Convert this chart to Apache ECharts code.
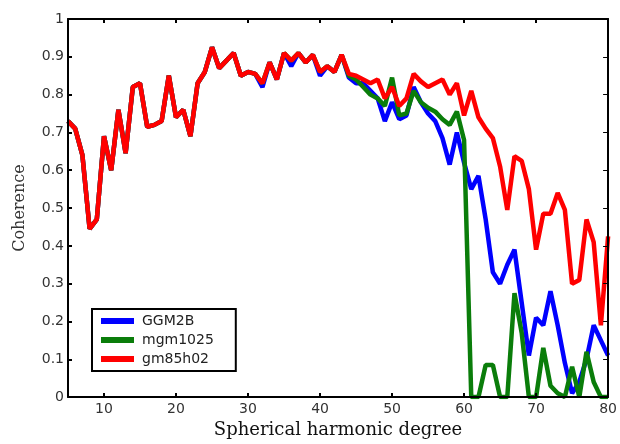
<!DOCTYPE html>
<html>
<head>
<meta charset="utf-8">
<script src="https://cdn.jsdelivr.net/npm/echarts@6/dist/echarts.min.js"></script>
<style>
  html, body { margin: 0; padding: 0; background: #fff; }
  #chart { width: 620px; height: 444px; }
</style>
</head>
<body>
<div id="chart"></div>
<script>
// spherical harmonic degree
var degrees = [5, 6, 7, 8, 9, 10, 11, 12, 13, 14, 15, 16, 17, 18, 19, 20,
    21, 22, 23, 24, 25, 26, 27, 28, 29, 30, 31, 32, 33, 34, 35, 36, 37, 38, 39, 40,
    41, 42, 43, 44, 45, 46, 47, 48, 49, 50, 51, 52, 53, 54, 55, 56, 57, 58, 59, 60,
    61, 62, 63, 64, 65, 66, 67, 68, 69, 70, 71, 72, 73, 74, 75, 76, 77, 78, 79, 80]

var ggm2b = [0.73, 0.71, 0.64, 0.445, 0.47, 0.69, 0.60, 0.76, 0.645, 0.82, 0.83, 0.715, 0.72, 0.73, 0.85, 0.74,
    0.76, 0.69, 0.83, 0.86, 0.925, 0.87, 0.89, 0.91, 0.85, 0.86, 0.855, 0.82, 0.885, 0.84, 0.91, 0.875, 0.91, 0.885, 0.905, 0.85,
    0.875, 0.86, 0.905, 0.845, 0.83, 0.83, 0.81, 0.79, 0.73, 0.78, 0.735, 0.745, 0.82, 0.78, 0.75, 0.73, 0.685, 0.615, 0.70, 0.62,
    0.55, 0.585, 0.47, 0.33, 0.30, 0.35, 0.39, 0.25, 0.11, 0.21, 0.19, 0.28, 0.19, 0.09, 0.01, 0.04, 0.10, 0.19, 0.15, 0.11]

var mgm1025 = [0.73, 0.71, 0.64, 0.445, 0.47, 0.69, 0.60, 0.76, 0.645, 0.82, 0.83, 0.715, 0.72, 0.73, 0.85, 0.74,
    0.76, 0.69, 0.83, 0.86, 0.925, 0.87, 0.89, 0.91, 0.85, 0.86, 0.855, 0.83, 0.885, 0.84, 0.91, 0.89, 0.91, 0.885, 0.905, 0.86,
    0.875, 0.86, 0.905, 0.85, 0.84, 0.82, 0.80, 0.79, 0.77, 0.845, 0.745, 0.75, 0.81, 0.78, 0.765, 0.755, 0.735, 0.72, 0.755, 0.68,
    0, 0, 0.085, 0.085, 0, 0, 0.275, 0.17, 0, 0, 0.13, 0.03, 0.01, 0, 0.08, 0, 0.12, 0.04, 0, 0]

var gm85h02 = [0.73, 0.71, 0.64, 0.445, 0.47, 0.69, 0.60, 0.76, 0.645, 0.82, 0.83, 0.715, 0.72, 0.73, 0.85, 0.74,
    0.76, 0.69, 0.83, 0.86, 0.925, 0.87, 0.89, 0.91, 0.85, 0.86, 0.855, 0.83, 0.885, 0.84, 0.91, 0.89, 0.91, 0.885, 0.905, 0.86,
    0.875, 0.86, 0.905, 0.855, 0.85, 0.84, 0.83, 0.84, 0.79, 0.82, 0.77, 0.79, 0.855, 0.835, 0.82, 0.83, 0.84, 0.80, 0.83, 0.745,
    0.81, 0.74, 0.71, 0.685, 0.61, 0.495, 0.637, 0.625, 0.55, 0.39, 0.485, 0.485, 0.54, 0.495, 0.30, 0.31, 0.47, 0.41, 0.19, 0.425]

var xTicks = [10, 20, 30, 40, 50, 60, 70, 80]

function pairs(values) {
    var out = []
    for (var i = 0; i < degrees.length; i++) {
        out.push([degrees[i], values[i]])
    }
    return out
}

function lineSeries(name, values, color) {
    return {
        name: name,
        type: 'line',
        data: pairs(values),
        showSymbol: false,
        symbol: 'none',
        lineStyle: { width: 4.5, color: color },
        itemStyle: { color: color },
        animation: false
    }
}

var axisLine = { show: true, onZero: false, lineStyle: { color: '#000', width: 2 } }
var tickStyle = { color: '#000', width: 2 }
var labelFont = { fontFamily: 'DejaVu Sans', fontSize: 14, color: '#333' }

var chart = echarts.init(document.getElementById('chart'))
chart.setOption({
    backgroundColor: '#fff',
    animation: false,
    grid: { left: 68, right: 8, top: 19, bottom: 41 },
    legend: {
        orient: 'vertical',
        left: 92,
        top: 309,
        icon: 'rect',
        itemWidth: 33,
        itemHeight: 6,
        itemGap: 5,
        padding: [5, 22, 5, 9],
        borderColor: '#000',
        borderWidth: 2,
        backgroundColor: '#fff',
        textStyle: {
            fontFamily: 'DejaVu Sans',
            fontSize: 14,
            lineHeight: 14,
            color: '#222',
            padding: [0, 0, 0, 3]
        },
        data: ['GGM2B', 'mgm1025', 'gm85h02']
    },
    xAxis: [{
        type: 'value',
        min: 5,
        max: 80,
        z: 10,
        name: 'Spherical harmonic degree',
        nameLocation: 'middle',
        nameGap: 21,
        nameTextStyle: { fontFamily: 'DejaVu Serif', fontSize: 18, color: '#111' },
        axisLine: axisLine,
        axisTick: { inside: true, length: 4, lineStyle: tickStyle, customValues: xTicks },
        axisLabel: Object.assign({ margin: 5, customValues: xTicks }, labelFont),
        splitLine: { show: false }
    }, {
        type: 'value',
        position: 'top',
        min: 5,
        max: 80,
        z: 10,
        axisLine: axisLine,
        axisTick: { inside: true, length: 4, lineStyle: tickStyle, customValues: xTicks },
        axisLabel: { show: false },
        splitLine: { show: false }
    }],
    yAxis: [{
        type: 'value',
        min: 0,
        max: 1,
        interval: 0.1,
        z: 10,
        name: 'Coherence',
        nameLocation: 'middle',
        nameGap: 40,
        nameTextStyle: { fontFamily: 'DejaVu Serif', fontSize: 16, color: '#333' },
        axisLine: axisLine,
        axisTick: { show: true, inside: true, length: 4, lineStyle: tickStyle },
        axisLabel: Object.assign({ margin: 4 }, labelFont),
        splitLine: { show: false }
    }, {
        type: 'value',
        position: 'right',
        min: 0,
        max: 1,
        interval: 0.1,
        z: 10,
        axisLine: axisLine,
        axisTick: { show: true, inside: true, length: 5, lineStyle: { color: '#000', width: 1 } },
        axisLabel: { show: false },
        splitLine: { show: false }
    }],
    series: [
        lineSeries('GGM2B', ggm2b, '#0000ff'),
        lineSeries('mgm1025', mgm1025, '#0a7d0a'),
        lineSeries('gm85h02', gm85h02, '#ff0000')
    ]
})
</script>
</body>
</html>
